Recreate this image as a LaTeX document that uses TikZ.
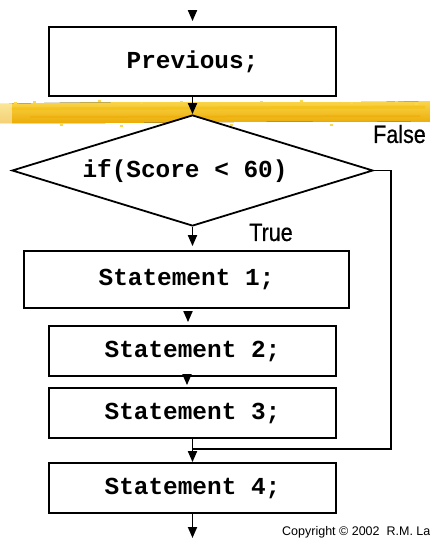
\documentclass[tikz,border=0pt]{standalone}
\usepackage{fontspec}
\setmonofont{Liberation Mono}
\newfontfamily\labelfont{Liberation Sans}
\newfontfamily\branchfont[FakeBold=0.6]{Liberation Sans}
\usetikzlibrary{arrows.meta,shapes.geometric}

\definecolor{bandlight}{RGB}{250,216,78}
\definecolor{banddark}{RGB}{236,170,4}
\definecolor{bandstreak}{RGB}{244,192,20}

\begin{document}
\begin{tikzpicture}[x=1pt,y=-1pt,
  box/.style={draw, line width=1.8pt, fill=white, inner sep=0pt,
              font=\fontsize{24.4}{26}\selectfont\ttfamily\bfseries},
  code/.style={inner sep=0pt, font=\fontsize{24.4}{26}\selectfont\ttfamily\bfseries},
  flow/.style={line width=1.8pt, -{Triangle[length=11pt,width=9pt]}},
  wire/.style={line width=1.8pt},
  branch/.style={inner sep=0pt, font=\fontsize{25}{27}\selectfont\branchfont},
]
\clip (0,0) rectangle (430,538);

% highlighter stroke behind the decision
\fill[top color=bandlight, bottom color=banddark]
  (0,104) .. controls (140,100) and (300,104) .. (430,101)
  -- (430,122) .. controls (300,120) and (140,124) .. (0,123) -- cycle;
\draw[bandstreak, line width=3pt, opacity=0.7] (10,109) -- (425,107);
\draw[banddark, line width=2pt, opacity=0.5] (30,117) -- (420,116);
\fill[white, opacity=0.45] (0,100) rectangle (12,125);
\foreach \sx/\sy in {14/102,33/101,98/100,140/102,180/101,260/101,300/100,350/102,395/101,415/103,60/124,120/125,230/124,330/124}
  \fill[bandlight] (\sx,\sy) rectangle ++(3,2);

% process boxes
\node[box, minimum width=287pt, minimum height=69pt] (prev) at (192.5,61.5) {Previous;};
\node[box, diamond, minimum width=361pt, minimum height=111pt] (dec) at (192.5,170.5) {};
\node[code] (dect) at (185,171) {if(Score < 60)};
\node[box, minimum width=325pt, minimum height=57pt] (s1) at (186.5,279.5) {Statement 1;};
\node[box, minimum width=287pt, minimum height=50pt] (s2) at (192.5,351) {Statement 2;};
\node[box, minimum width=287pt, minimum height=50pt] (s3) at (192.5,413) {Statement 3;};
\node[box, minimum width=287pt, minimum height=50pt] (s4) at (192.5,488) {Statement 4;};

% branch labels
\node[branch] (lfalse) at (399.5,134) {\scalebox{0.86}[1]{False}};
\node[branch] (ltrue) at (271,232.5) {\scalebox{0.86}[1]{True}};

% connectors
\coordinate (in) at (192.5,10);
\coordinate (out) at (192.5,538);
\coordinate (fa) at (391,170.5);
\coordinate (fb) at (391,449);
\coordinate (fm) at (192.5,449);

\draw[flow, shorten >=5pt] (in) -- (in |- prev.north);
\draw[flow] (prev) -- (dec);
\draw[flow, shorten >=4pt] (dec.south) -- (dec.south |- s1.north);
\draw[flow, shorten <=4pt, shorten >=3pt] ([xshift=1.5pt]s1.south) -- ([xshift=1.5pt]s1.south |- s2.north);
\draw[flow, shorten >=2pt] ([xshift=-5.5pt]s2.south) -- ([xshift=-5.5pt]s2.south |- s3.north);
\draw[flow] (s3) -- (s4);
\draw[flow] (s4.south) -- (out);
\draw[wire] (dec.east) -- (fa) -- (fb) -- (fm);

% footer
\node[anchor=base west, inner sep=0pt, font=\labelfont\fontsize{12.5}{14}\selectfont]
  (copy) at (282,535.5) {Copyright \textcopyright\ 2002\ \ R.M. Laurie};
\end{tikzpicture}
\end{document}
